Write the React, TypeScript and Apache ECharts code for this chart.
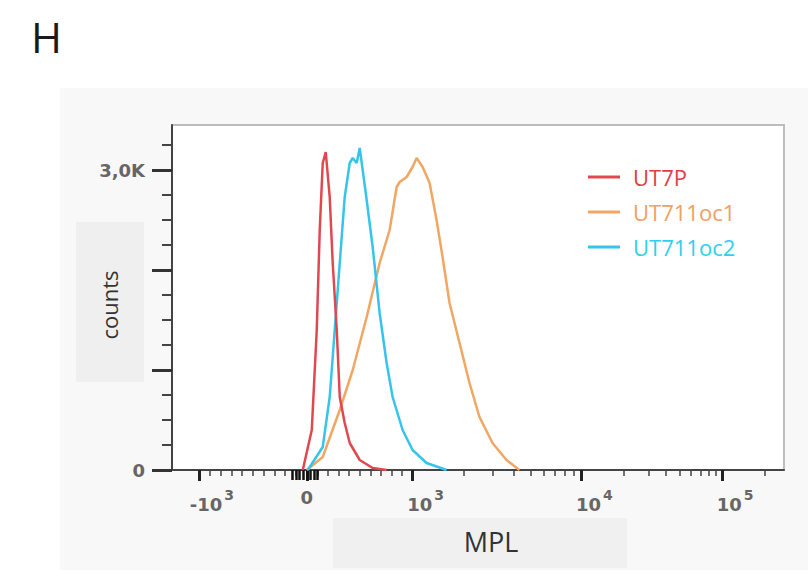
import React, { useEffect, useRef } from "react";
import * as echarts from "echarts";

// x values are display channels (0..1000 across the plot), y values are counts
const seriesNames = ["UT7P", "UT711oc1", "UT711oc2"];
const seriesColors = ["#e0484f", "#f2a664", "#36c4ea"];
const legendTextColors = ["#e23d45", "#f0a060", "#2fd0ee"];

const redX = [213.7, 228.4, 236.5, 241.4, 246.3, 251.2, 257.7, 262.6, 269.2, 274.1, 282.2, 290.4, 306.7, 327.9, 350.7];
const redY = [0, 400, 1400, 2400, 3070, 3180, 2730, 2070, 1400, 730, 470, 270, 100, 20, 0];

const orangeX = [220.2, 246.3, 274.1, 295.3, 318.1, 339.3, 355.6, 367.1, 372.0, 383.4, 393.1, 399.7, 409.5, 420.9, 432.3, 442.1, 453.5, 469.8, 486.1, 502.4, 523.7, 546.5, 567.7];
const orangeY = [0, 130, 600, 1000, 1530, 2070, 2400, 2830, 2880, 2930, 3030, 3120, 3030, 2870, 2500, 2130, 1670, 1270, 870, 530, 270, 100, 0];

const cyanX = [221.9, 246.3, 257.7, 265.9, 274.1, 282.2, 290.4, 295.3, 301.8, 306.7, 311.6, 318.1, 327.9, 339.3, 350.7, 360.5, 376.8, 393.1, 416.0, 448.6];
const cyanY = [0, 230, 730, 1400, 2070, 2730, 3070, 3120, 3070, 3220, 3000, 2700, 2230, 1570, 1070, 730, 400, 200, 70, 0];

// x tick labels (base, exponent) and their channel positions
const xTickBase = ["-10", "0", "10", "10", "10"];
const xTickExp = ["3", "", "3", "4", "5"];
const xTickChannels = [44.0, 220.2, 393.1, 668.8, 898.9];

// y ticks
const yMajorTicks = [0, 1000, 2000, 3000];
const yLabelValues = [0, 3000];
const yLabelTexts = ["0", "3,0K"];
const yMinorTicks = [250, 500, 750, 1250, 1500, 1750, 2250, 2500, 2750, 3250];

const xTitle = "MPL";
const yTitle = "counts";
const panelTitle = "H";

function buildMinorTicks(): number[] {
  const [cNeg, c0, c3, c4, c5] = xTickChannels;
  const out: number[] = [];
  for (let i = 1; i < 10; i++) out.push(cNeg + ((c0 - cNeg) * i) / 10);
  for (let i = 1; i < 10; i++) out.push(c0 + ((c3 - c0) * i) / 10);
  for (let i = 2; i < 10; i++) out.push(c3 + (c4 - c3) * Math.log10(i));
  for (let i = 2; i < 10; i++) out.push(c4 + (c5 - c4) * Math.log10(i));
  out.push(c5 + (c5 - c4) * Math.log10(2));
  return out;
}

function zip(xs: number[], ys: number[]) {
  return xs.map((x, i) => [x, ys[i]]);
}

export default function App() {
  const ref = useRef<HTMLDivElement>(null);
  useEffect(() => {
    if (!ref.current) return;
    const chart = echarts.init(ref.current, undefined, { renderer: "svg" });
    const minor = buildMinorTicks();
    const [, c0, c3] = xTickChannels;
    const step0 = (c3 - c0) / 10;
    const blob: number[] = [];
    for (let k = -4; k <= 3; k++) blob.push(c0 + (k * step0) / 3);
    const tickFont = "DejaVu Sans";
    const dataSets = [zip(redX, redY), zip(orangeX, orangeY), zip(cyanX, cyanY)];

    chart.setOption({
      animation: false,
      backgroundColor: "#ffffff",
      grid: {
        left: 172,
        top: 125,
        width: 612,
        height: 345,
        show: true,
        borderColor: "#bdbdbd",
        borderWidth: 2,
        backgroundColor: "#ffffff",
      },
      graphic: [
        { type: "rect", z: -1, shape: { x: 60, y: 88, width: 748, height: 482 }, style: { fill: "#f8f8f8" }, silent: true },
        { type: "rect", z: -1, shape: { x: 76, y: 222, width: 68, height: 160 }, style: { fill: "#efefef" }, silent: true },
        { type: "rect", z: -1, shape: { x: 333, y: 518, width: 294, height: 50 }, style: { fill: "#f0f0f0" }, silent: true },
        {
          type: "text",
          left: 31,
          top: 15,
          style: { text: panelTitle, fontSize: 42, fontFamily: "Open Sans", fill: "#1a1a1a" },
        },
        {
          type: "text",
          x: 109,
          y: 305,
          rotation: Math.PI / 2,
          style: { text: yTitle, fontSize: 22, fontFamily: "Open Sans", fill: "#333", align: "center", verticalAlign: "middle" },
        },
        {
          type: "text",
          x: 491,
          y: 541,
          style: { text: xTitle, fontSize: 27, fontFamily: "Open Sans", fill: "#333", align: "center", verticalAlign: "middle" },
        },
      ],
      legend: {
        orient: "vertical",
        left: 588,
        top: 165,
        padding: 0,
        icon: "rect",
        itemWidth: 32,
        itemHeight: 3,
        itemGap: 11,
        selectedMode: false,
        textStyle: { fontSize: 22, fontFamily: "Open Sans", lineHeight: 24, padding: [0, 0, 0, 8] },
        data: seriesNames.map((n, i) => ({
          name: n,
          itemStyle: { color: seriesColors[i] },
          textStyle: { color: legendTextColors[i] },
        })),
      },
      xAxis: [
        {
          type: "value",
          min: 0,
          max: 1000,
          position: "bottom",
          splitLine: { show: false },
          axisLine: { show: true, onZero: false, lineStyle: { color: "#444", width: 2 } },
          axisTick: { show: true, customValues: xTickChannels, length: 11, lineStyle: { color: "#222", width: 3 } },
          axisLabel: {
            show: true,
            customValues: xTickChannels,
            margin: 18,
            hideOverlap: false,
            formatter: (v: number) => {
              const i = xTickChannels.findIndex((c) => Math.abs(c - v) < 0.01);
              if (i < 0) return "";
              if (!xTickExp[i]) return "{z|" + xTickBase[i] + "}";
              return "{b|" + xTickBase[i] + "}{s|" + xTickExp[i] + "}";
            },
            rich: {
              b: { fontSize: 18, fontWeight: "bold", fontFamily: tickFont, color: "#666", verticalAlign: "bottom", padding: [0, 0, 0, 26] },
              s: { fontSize: 14, fontWeight: "bold", fontFamily: tickFont, color: "#666", verticalAlign: "bottom", padding: [0, 0, 11, 2] },
              z: { fontSize: 18, fontWeight: "bold", fontFamily: tickFont, color: "#666" },
            },
          },
        },
        {
          type: "value",
          min: 0,
          max: 1000,
          position: "bottom",
          splitLine: { show: false },
          axisLine: { show: false },
          axisLabel: { show: false },
          axisTick: { show: true, customValues: minor, length: 6, lineStyle: { color: "#444", width: 1.5 } },
        },
        {
          type: "value",
          min: 0,
          max: 1000,
          position: "bottom",
          splitLine: { show: false },
          axisLine: { show: false },
          axisLabel: { show: false },
          axisTick: { show: true, customValues: blob, length: 10, lineStyle: { color: "#111", width: 2.5 } },
        },
      ],
      yAxis: [
        {
          type: "value",
          min: 0,
          max: 3450,
          position: "left",
          splitLine: { show: false },
          axisLine: { show: true, onZero: false, lineStyle: { color: "#444", width: 2 } },
          axisTick: { show: true, customValues: yMajorTicks, length: 20, lineStyle: { color: "#333", width: 3 } },
          axisLabel: {
            show: true,
            customValues: yLabelValues,
            margin: 27,
            fontSize: 18,
            fontWeight: "bold",
            fontFamily: tickFont,
            color: "#666",
            formatter: (v: number) => {
              const i = yLabelValues.indexOf(v);
              return i < 0 ? "" : yLabelTexts[i];
            },
          },
        },
        {
          type: "value",
          min: 0,
          max: 3450,
          position: "left",
          splitLine: { show: false },
          axisLine: { show: false },
          axisLabel: { show: false },
          axisTick: { show: true, customValues: yMinorTicks, length: 10, lineStyle: { color: "#444", width: 2 } },
        },
      ],
      series: seriesNames.map((n, i) => ({
        name: n,
        type: "line",
        xAxisIndex: 0,
        yAxisIndex: 0,
        showSymbol: false,
        symbol: "none",
        data: dataSets[i],
        lineStyle: { color: seriesColors[i], width: 2.5 },
        itemStyle: { color: seriesColors[i] },
        z: i === 0 ? 4 : 3,
      })),
    });
    return () => chart.dispose();
  }, []);
  return <div ref={ref} style={{ position: "absolute", left: 0, top: 0, width: 808, height: 577 }} />;
}
